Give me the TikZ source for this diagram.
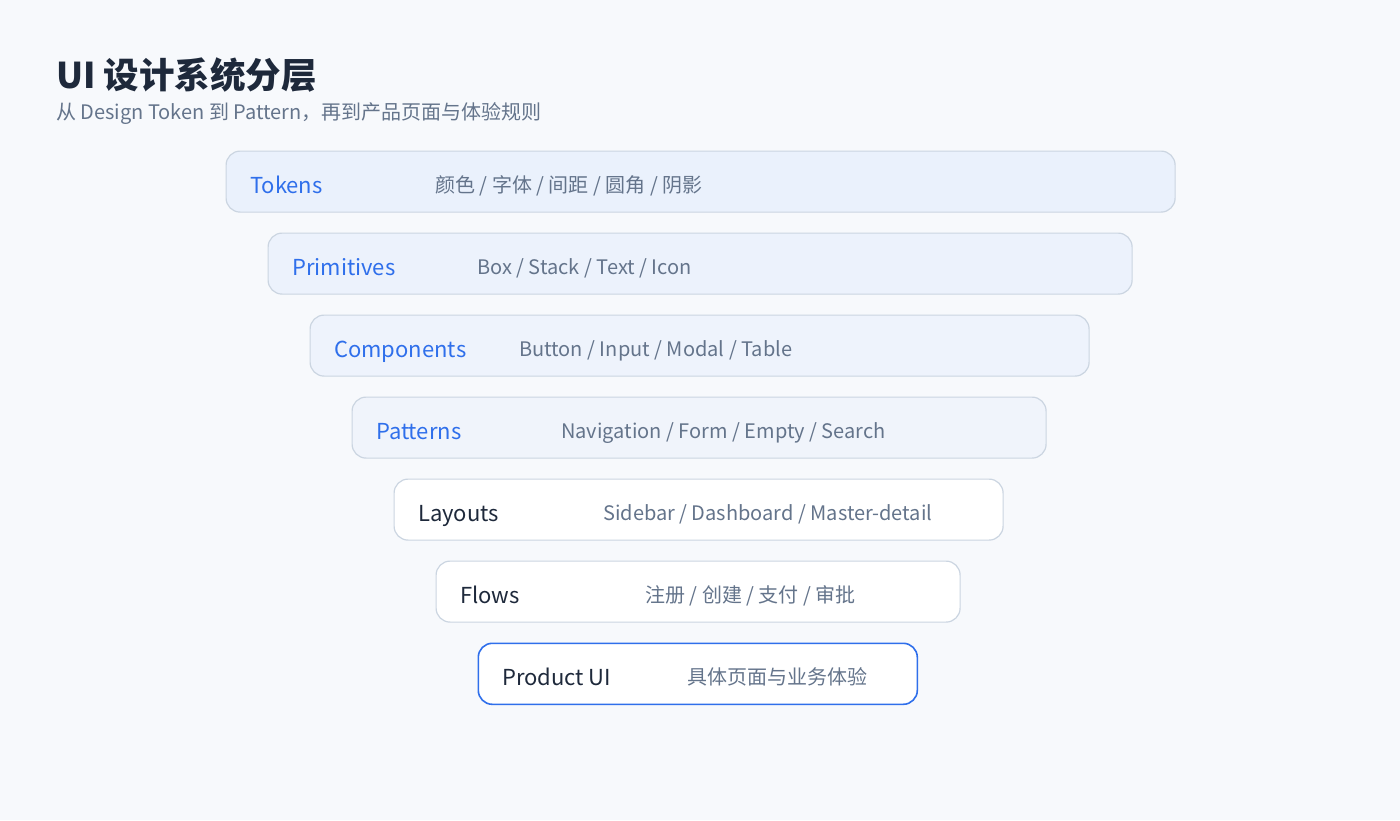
\documentclass[tikz,border=0pt]{standalone}
\usepackage{fontspec}
\setmainfont{Noto Sans CJK SC}
\definecolor{bg}{HTML}{F7F9FC}
\definecolor{edge}{HTML}{CBD5E1}
\definecolor{accent}{HTML}{2F6FEB}
\definecolor{ink}{HTML}{1E293B}
\definecolor{muted}{HTML}{64748B}
\definecolor{f1}{HTML}{EAF1FC}
\definecolor{f2}{HTML}{ECF2FC}
\definecolor{f3}{HTML}{EEF3FC}
\definecolor{f4}{HTML}{F0F4FB}
\tikzset{
  layer/.style={draw=edge, line width=1.2pt, rounded corners=14pt, inner sep=0pt, anchor=north west},
  lab/.style={anchor=base west, font=\fontsize{22}{26}\selectfont, inner sep=0pt},
  desc/.style={anchor=base west, font=\fontsize{20}{24}\selectfont, text=muted, inner sep=0pt},
}
\begin{document}
\begin{tikzpicture}[x=1pt,y=-1pt]
\fill[bg] (0,0) rectangle (1400,820);
\useasboundingbox (0,0) rectangle (1400,820);
\node[anchor=base west, inner sep=0pt, text=ink, font=\fontsize{35.5}{40}\bfseries\selectfont] (title) at (56,88.5) {UI 设计系统分层};
\node[anchor=base west, inner sep=0pt, text=muted, font=\fontsize{20}{24}\selectfont] (sub) at (56,119) {从 Design Token 到 Pattern，再到产品页面与体验规则};
% boxes
\foreach \i/\x/\w/\f/\lc/\bc/\lw/\name/\d in {
  0/225.5/949/f1/accent/edge/1.2/Tokens/{颜色 / 字体 / 间距 / 圆角 / 阴影},
  1/267.5/864/f2/accent/edge/1.2/Primitives/{Box / Stack / Text / Icon},
  2/309.5/779/f3/accent/edge/1.2/Components/{Button / Input / Modal / Table},
  3/351.5/694/f4/accent/edge/1.2/Patterns/{Navigation / Form / Empty / Search},
  4/393.5/609/white/ink/edge/1.2/Layouts/{Sidebar / Dashboard / Master-detail},
  5/435.5/524/white/ink/edge/1.2/Flows/{注册 / 创建 / 支付 / 审批},
  6/477.5/439/white/ink/accent/1.6/Product UI/{具体页面与业务体验}}
{
  \pgfmathsetmacro{\yy}{150.5+82*\i}
  \node[layer, fill=\f, draw=\bc, line width=\lw pt, minimum width=\w pt, minimum height=61pt] (box\i) at (\x,\yy) {};
  \node[lab, text=\lc] (lab\i) at (\x+24.5,\yy+43) {\name};
  \node[desc] (desc\i) at (\x+209.5,\yy+42) {\d};
}
\end{tikzpicture}
\end{document}
